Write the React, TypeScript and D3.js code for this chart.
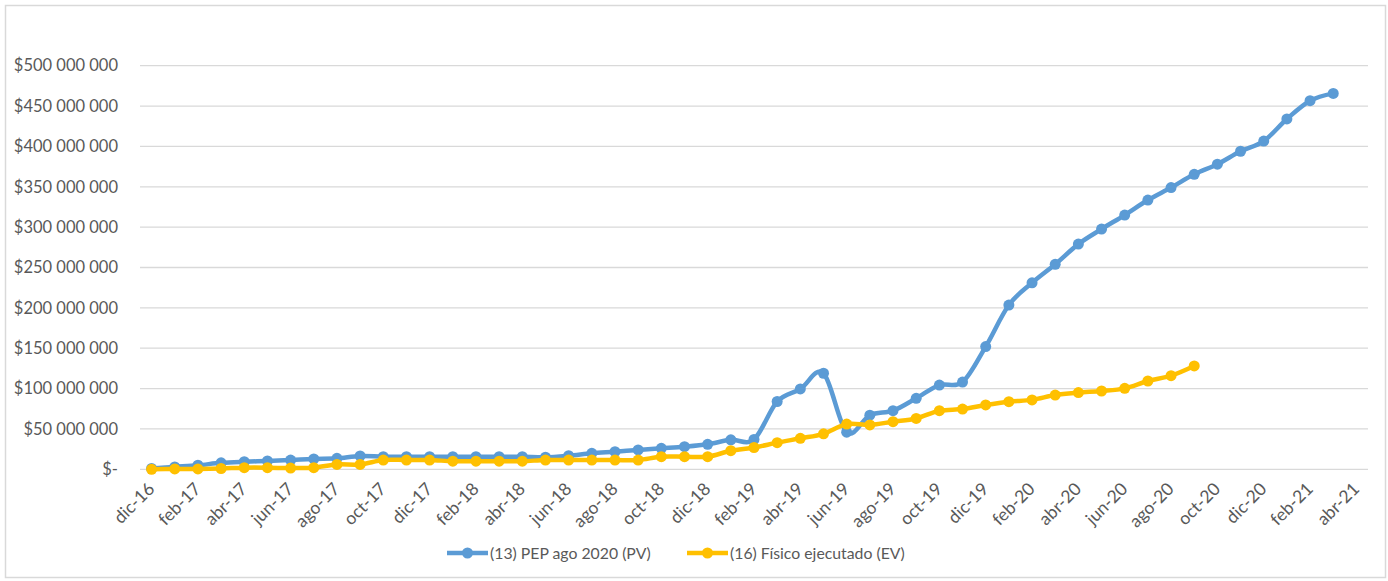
import React, { useEffect, useRef } from 'react';
import * as d3 from 'd3';

// monthly categories on the date axis (dic-16 .. abr-21)
const months = [
  'dic-16',
  'ene-17', 'feb-17', 'mar-17', 'abr-17', 'may-17', 'jun-17', 'jul-17', 'ago-17', 'sep-17', 'oct-17', 'nov-17', 'dic-17',
  'ene-18', 'feb-18', 'mar-18', 'abr-18', 'may-18', 'jun-18', 'jul-18', 'ago-18', 'sep-18', 'oct-18', 'nov-18', 'dic-18',
  'ene-19', 'feb-19', 'mar-19', 'abr-19', 'may-19', 'jun-19', 'jul-19', 'ago-19', 'sep-19', 'oct-19', 'nov-19', 'dic-19',
  'ene-20', 'feb-20', 'mar-20', 'abr-20', 'may-20', 'jun-20', 'jul-20', 'ago-20', 'sep-20', 'oct-20', 'nov-20', 'dic-20',
  'ene-21', 'feb-21', 'mar-21', 'abr-21',
];

const tickLabels = [
  'dic-16', 'feb-17', 'abr-17', 'jun-17', 'ago-17', 'oct-17', 'dic-17', 'feb-18', 'abr-18', 'jun-18',
  'ago-18', 'oct-18', 'dic-18', 'feb-19', 'abr-19', 'jun-19', 'ago-19', 'oct-19', 'dic-19', 'feb-20',
  'abr-20', 'jun-20', 'ago-20', 'oct-20', 'dic-20', 'feb-21', 'abr-21',
];

// values in millions of $
const pvValues = [
  1, 3, 5, 8, 9.4, 10.3, 11.5, 12.8, 13.6, 16.5, 15.6, 15.6, 15.6,
  15.6, 15.6, 15.6, 15.6, 15, 16.9, 19.8, 21.8, 24, 26, 28, 31,
  36.5, 37, 84, 99.5, 119, 46, 67, 72.6, 88, 104.4, 108, 152,
  203.5, 231, 254, 279, 297.6, 315, 333.6, 349, 365.4, 378, 394, 406.6,
  434, 456.6, 465.7,
];

const evValues = [
  0, 0.5, 0.5, 1, 2, 2, 1.5, 2, 6, 6, 11.5, 11.5, 11.5,
  10, 10, 10, 10, 11.5, 11.5, 11.5, 11.5, 11.5, 15.6, 15.6, 15.6,
  23, 27, 33, 38.4, 44, 56, 55, 59, 63, 72.6, 74.6, 79.7,
  83.8, 86, 92, 95, 97, 100.3, 109.4, 116, 128,
];

const seriesNames = ['(13) PEP ago 2020 (PV)', '(16) Físico ejecutado (EV)'];
const seriesColors = ['#5b9bd5', '#ffc000'];

const W = 1388;
const H = 581;
const FONT = "Lato, 'Open Sans', sans-serif";

const locale = d3.formatLocale({ decimal: ',', thousands: ' ', grouping: [3], currency: ['$', ''] });
const fmt = locale.format('$,.0f');

const Chart = () => {
  const ref = useRef<SVGSVGElement>(null);

  useEffect(() => {
    const svg = d3.select(ref.current);
    svg.selectAll('*').remove();

    // chart border
    svg.append('rect')
      .attr('x', 5.5).attr('y', 5.5)
      .attr('width', 1380).attr('height', 572)
      .attr('fill', '#fff')
      .attr('stroke', '#d9d9d9')
      .attr('stroke-width', 1.5);

    const x = d3.scaleBand<string>()
      .domain(months)
      .range([140, 1368])
      .padding(0);
    const half = x.bandwidth() / 2;
    const cx = (i: number) => (x(months[i]) as number) + half;

    const y = d3.scaleLinear()
      .domain([0, 500])
      .range([469.3, 65.7]);

    // gridlines + y labels
    const yTicks = y.ticks(10);
    svg.append('g')
      .selectAll('line')
      .data(yTicks)
      .join('line')
      .attr('x1', 140).attr('x2', 1368)
      .attr('y1', d => y(d)).attr('y2', d => y(d))
      .attr('stroke', '#d9d9d9')
      .attr('stroke-width', 1.3);

    svg.append('g')
      .selectAll('text')
      .data(yTicks)
      .join('text')
      .attr('x', 118)
      .attr('y', d => y(d))
      .attr('dy', '0.35em')
      .attr('text-anchor', 'end')
      .attr('font-family', FONT)
      .attr('font-size', 16.5)
      .attr('fill', '#595959')
      .text(d => (d === 0 ? '$-' : fmt(d * 1e6)));

    // x labels, rotated
    svg.append('g')
      .selectAll('text')
      .data(tickLabels)
      .join('text')
      .attr('transform', d => `translate(${(x(d) as number) + half + 4},${490}) rotate(-45)`)
      .attr('text-anchor', 'end')
      .attr('font-family', FONT)
      .attr('font-size', 17.5)
      .attr('fill', '#595959')
      .text(d => d);

    const line = d3.line<number>()
      .x((_, i) => cx(i))
      .y(d => y(d))
      .curve(d3.curveCatmullRom.alpha(0));

    [pvValues, evValues].forEach((vals, s) => {
      const g = svg.append('g');
      g.append('path')
        .datum(vals)
        .attr('d', line)
        .attr('fill', 'none')
        .attr('stroke', seriesColors[s])
        .attr('stroke-width', 4.5)
        .attr('stroke-linejoin', 'round')
        .attr('stroke-linecap', 'round');
      g.selectAll('circle')
        .data(vals)
        .join('circle')
        .attr('cx', (_, i) => cx(i))
        .attr('cy', d => y(d))
        .attr('r', 5.5)
        .attr('fill', seriesColors[s]);
    });

    // legend
    const legendX = [447, 687];
    const legend = svg.append('g');
    seriesNames.forEach((name, s) => {
      const lx = legendX[s];
      legend.append('line')
        .attr('x1', lx).attr('x2', lx + 41)
        .attr('y1', 553).attr('y2', 553)
        .attr('stroke', seriesColors[s])
        .attr('stroke-width', 4.5);
      legend.append('circle')
        .attr('cx', lx + 20.5).attr('cy', 553)
        .attr('r', 5.5)
        .attr('fill', seriesColors[s]);
      legend.append('text')
        .attr('x', lx + 43)
        .attr('y', 553)
        .attr('dy', '0.35em')
        .attr('font-family', FONT)
        .attr('font-size', 15.8)
        .attr('fill', '#595959')
        .text(name);
    });
  }, []);

  return (
    <svg
      ref={ref}
      width={W}
      height={H}
      style={{ position: 'absolute', left: 0, top: 0, display: 'block' }}
    />
  );
};

export default function App() {
  return <Chart />;
}
